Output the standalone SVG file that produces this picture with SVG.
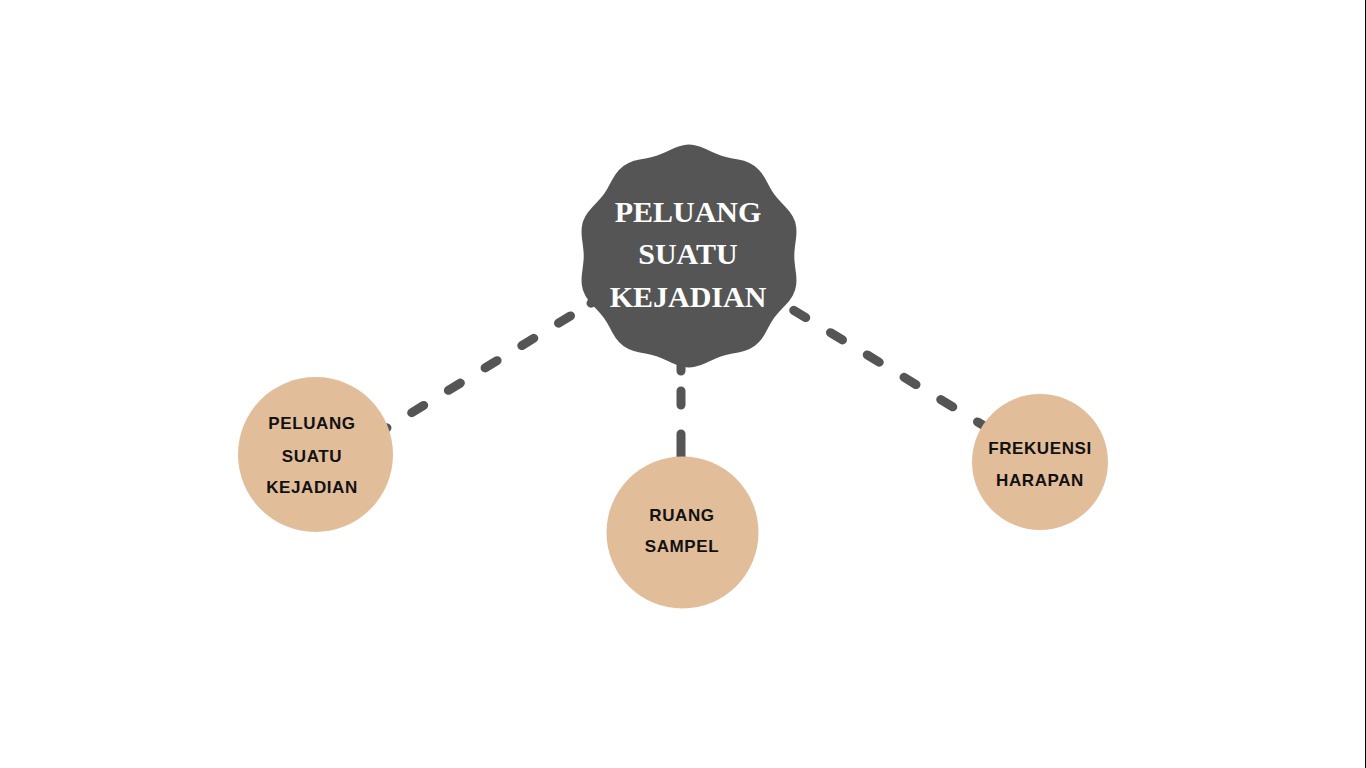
<svg xmlns="http://www.w3.org/2000/svg" width="1366" height="768" viewBox="0 0 1366 768">
<style>
.conn{fill:none;stroke:#555555;stroke-width:9;stroke-linecap:round;stroke-dasharray:14 29}
.sub{fill:#E2BD9A}
.st{font-family:"Liberation Sans",Arial,sans-serif;font-weight:bold;font-size:17px;letter-spacing:0.6px;fill:#111111;text-anchor:middle}
.mt{font-family:"Liberation Serif","Times New Roman",serif;font-weight:bold;font-size:30px;fill:#FFFFFF;text-anchor:middle}
</style>
<rect x="0" y="0" width="1366" height="768" fill="#FFFFFF"/>
<line x1="1365.5" y1="0" x2="1365.5" y2="768" stroke="#000000" stroke-width="1"/>
<g id="connectors">
<path class="conn" d="M597,299.5 L591,303.2" style="stroke-dasharray:none"/>
<line class="conn" x1="607.2" y1="293.5" x2="385" y2="429"/>
<line class="conn" x1="757" y1="288" x2="992" y2="430.7"/>
<line class="conn" x1="681" y1="340" x2="681" y2="470" style="stroke-dasharray:31 20 14 29 40"/>
</g>
<g id="main">
<path fill="#555555" d="M683.25,145.2 Q689,144 694.75,145.2 Q700.5,146.4 705.85,149 Q711.2,151.6 716.3,153.85 Q721.4,156.1 726.9,157.3 Q732.4,158.5 738.3,159.5 Q744.2,160.5 749.5,162.95 Q754.8,165.4 758.8,169.75 Q762.8,174.1 765.55,179.3 Q768.3,184.5 771.1,189.4 Q773.9,194.3 777.65,198.45 Q781.4,202.6 785.55,206.9 Q789.7,211.2 792.65,216.3 Q795.6,221.4 796.2,227.2 Q796.8,233 795.95,238.95 Q795.1,244.9 794.55,250.45 Q794,256 794.55,261.55 Q795.1,267.1 795.95,273.05 Q796.8,279 796.2,284.8 Q795.6,290.6 792.65,295.7 Q789.7,300.8 785.55,305.1 Q781.4,309.4 777.65,313.55 Q773.9,317.7 771.1,322.6 Q768.3,327.5 765.55,332.7 Q762.8,337.9 758.8,342.25 Q754.8,346.6 749.5,349.05 Q744.2,351.5 738.3,352.5 Q732.4,353.5 726.9,354.7 Q721.4,355.9 716.3,358.15 Q711.2,360.4 705.85,363 Q700.5,365.6 694.75,366.8 Q689,368 683.25,366.8 Q677.5,365.6 672.15,363 Q666.8,360.4 661.7,358.15 Q656.6,355.9 651.1,354.7 Q645.6,353.5 639.7,352.5 Q633.8,351.5 628.5,349.05 Q623.2,346.6 619.2,342.25 Q615.2,337.9 612.45,332.7 Q609.7,327.5 606.9,322.6 Q604.1,317.7 600.35,313.55 Q596.6,309.4 592.45,305.1 Q588.3,300.8 585.35,295.7 Q582.4,290.6 581.8,284.8 Q581.2,279 582.05,273.05 Q582.9,267.1 583.45,261.55 Q584,256 583.45,250.45 Q582.9,244.9 582.05,238.95 Q581.2,233 581.8,227.2 Q582.4,221.4 585.35,216.3 Q588.3,211.2 592.45,206.9 Q596.6,202.6 600.35,198.45 Q604.1,194.3 606.9,189.4 Q609.7,184.5 612.45,179.3 Q615.2,174.1 619.2,169.75 Q623.2,165.4 628.5,162.95 Q633.8,160.5 639.7,159.5 Q645.6,158.5 651.1,157.3 Q656.6,156.1 661.7,153.85 Q666.8,151.6 672.15,149 Q677.5,146.4 683.25,145.2 Z"/>
<text class="mt" x="688" y="222">PELUANG</text>
<text class="mt" x="688" y="264">SUATU</text>
<text class="mt" x="688" y="307">KEJADIAN</text>
</g>
<g id="node-peluang">
<circle class="sub" cx="315.5" cy="454.5" r="77.5"/>
<text class="st" x="312" y="429">PELUANG</text>
<text class="st" x="312" y="461.5">SUATU</text>
<text class="st" x="312" y="493">KEJADIAN</text>
</g>
<g id="node-ruang">
<circle class="sub" cx="682.5" cy="532.5" r="76"/>
<text class="st" x="682" y="520.5">RUANG</text>
<text class="st" x="682" y="552">SAMPEL</text>
</g>
<g id="node-frekuensi">
<circle class="sub" cx="1040" cy="462" r="68"/>
<text class="st" x="1040" y="454">FREKUENSI</text>
<text class="st" x="1040" y="486">HARAPAN</text>
</g>
</svg>
